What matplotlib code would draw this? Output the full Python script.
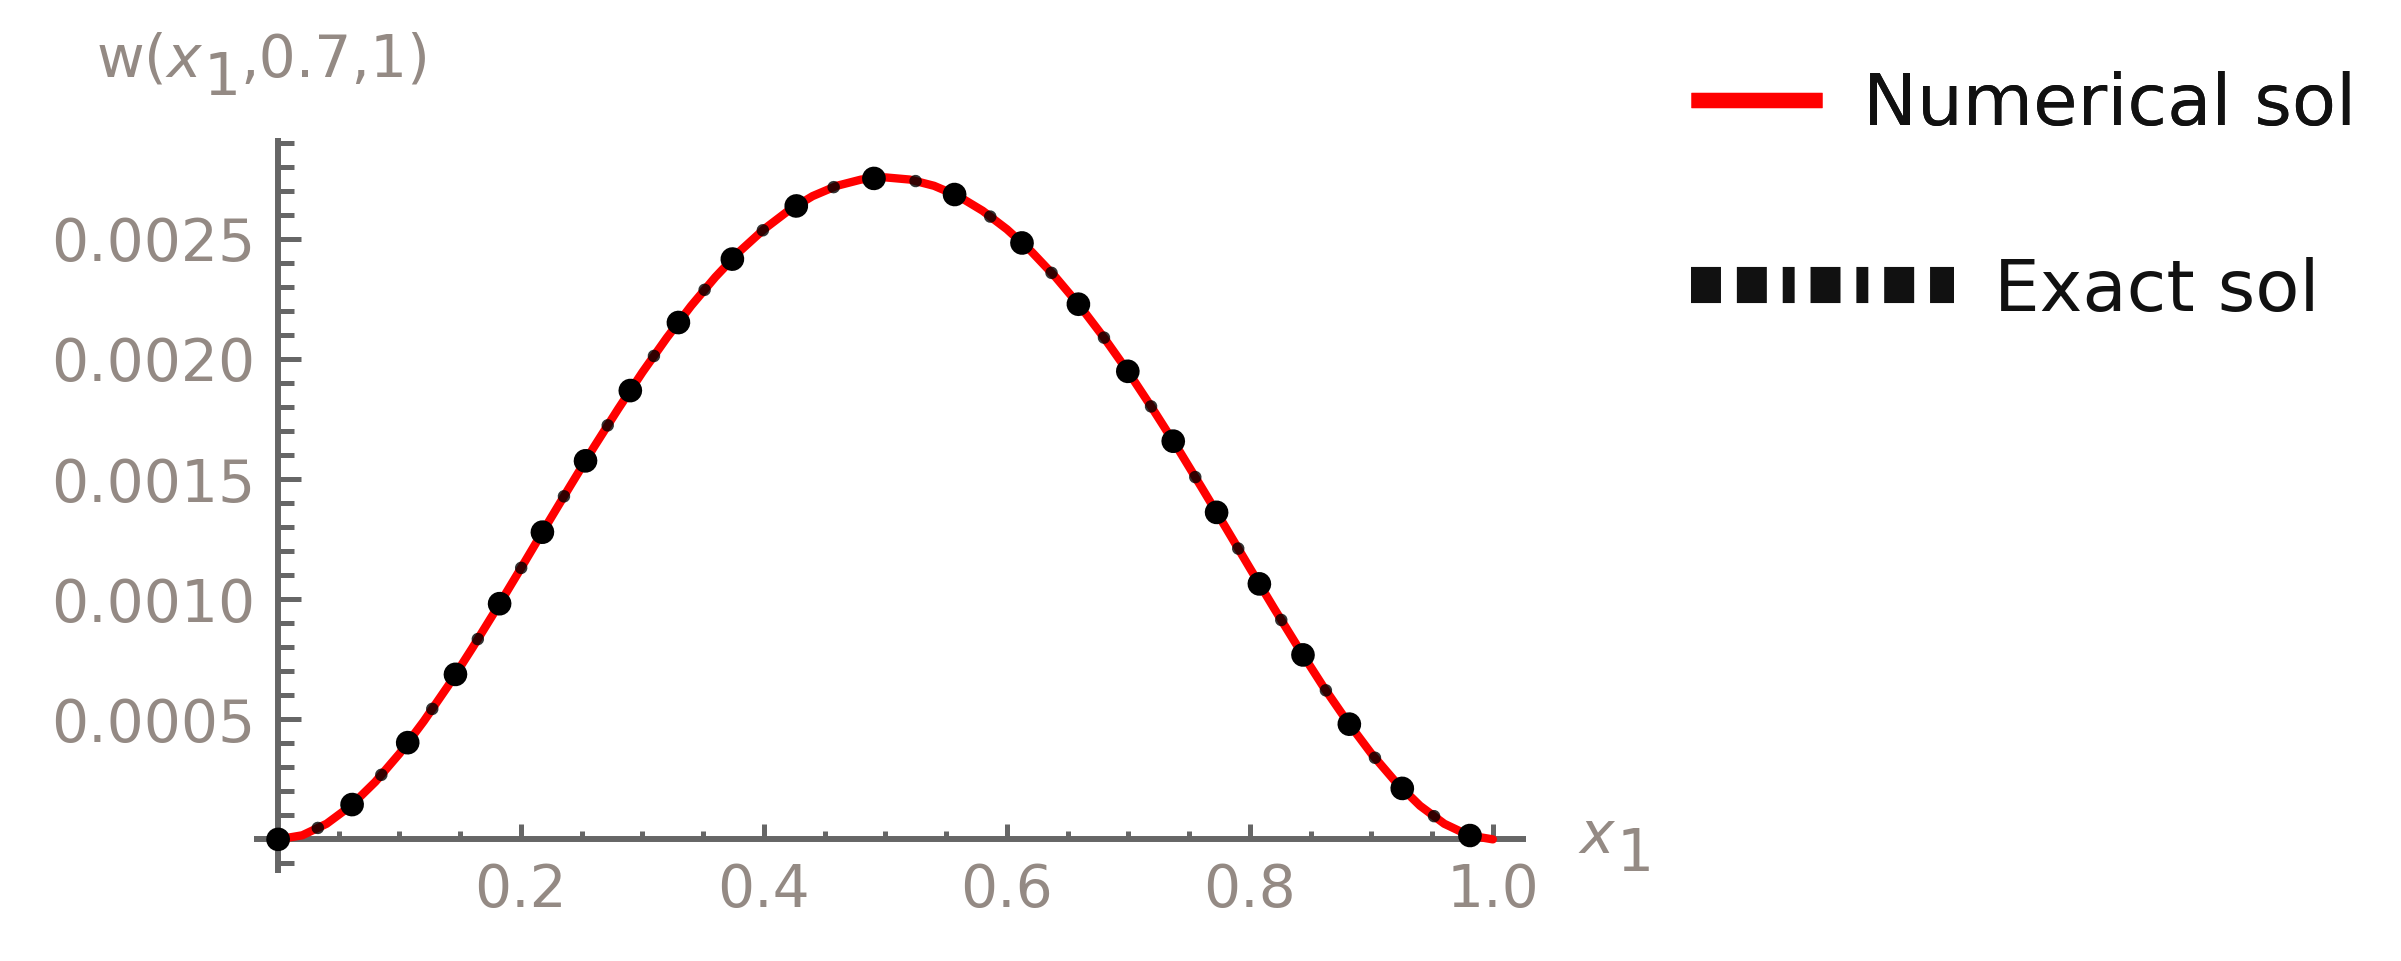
#!/usr/bin/env python
# -*- coding: utf-8 -*-

import matplotlib
matplotlib.use("Agg")

import matplotlib.pyplot as plt
from matplotlib.lines  import Line2D
from matplotlib.ticker import FixedLocator, MultipleLocator


x1 = [0.00, 0.02, 0.04, 0.06, 0.08, 0.10, 0.12, 0.14, 0.16, 0.18,
      0.20, 0.22, 0.24, 0.26, 0.28, 0.30, 0.32, 0.34, 0.36, 0.38,
      0.40, 0.42, 0.44, 0.46, 0.48, 0.50, 0.52, 0.54, 0.56, 0.58,
      0.60, 0.62, 0.64, 0.66, 0.68, 0.70, 0.72, 0.74, 0.76, 0.78,
      0.80, 0.82, 0.84, 0.86, 0.88, 0.90, 0.92, 0.94, 0.96, 0.98,
      1.00]

w_numerical = [0.0,      0.000017, 0.000065, 0.000140, 0.000239, 0.000357, 0.000492, 0.000639, 0.000797, 0.000961,
               0.001129, 0.001299, 0.001467, 0.001633, 0.001792, 0.001945, 0.002088, 0.002221, 0.002341, 0.002448,
               0.002540, 0.002617, 0.002678, 0.002721, 0.002747, 0.002756, 0.002747, 0.002721, 0.002678, 0.002617,
               0.002540, 0.002448, 0.002341, 0.002221, 0.002088, 0.001945, 0.001792, 0.001633, 0.001467, 0.001299,
               0.001129, 0.000961, 0.000797, 0.000639, 0.000492, 0.000357, 0.000239, 0.000140, 0.000065, 0.000017,
               0.0]

# The exact solution lies right on top of the numerical one
w_exact = list(w_numerical)

x_ticks       = [0.2, 0.4, 0.6, 0.8, 1.0]
x_tick_labels = ["0.2", "0.4", "0.6", "0.8", "1.0"]
y_ticks       = [0.0005, 0.0010, 0.0015, 0.0020, 0.0025]
y_tick_labels = ["0.0005", "0.0010", "0.0015", "0.0020", "0.0025"]

label_num   = "Numerical sol"
label_exact = "Exact sol"


# Styles...
W, H       = 2401, 961
col_axis   = "#666666"
col_label  = "#948a84"
fs_tick    = 42
fs_legend  = 52

plt.rcParams['font.family']      = ['DejaVu Sans']
plt.rcParams['mathtext.fontset'] = 'dejavusans'


def subscript_label(fig, x_px, base_px, head, sub, tail, drop_px, fontsize):
    # Mathematica draws the subscript nearly full size, so build it from pieces
    t1 = fig.text(x_px / W, 1 - base_px / H, head, color = col_label, fontsize = fontsize,
                  ha = 'left', va = 'baseline')
    t2 = fig.text((x_px + 1) / W, 1 - (base_px + drop_px) / H, sub, color = col_label,
                  fontsize = fontsize, ha = 'left', va = 'baseline')
    fig.canvas.draw()
    bb = t1.get_window_extent()
    t2.set_x(bb.x1 / W)
    if tail:
        fig.canvas.draw()
        bb2 = t2.get_window_extent()
        fig.text(bb2.x1 / W, 1 - base_px / H, tail, color = col_label, fontsize = fontsize,
                 ha = 'left', va = 'baseline')


fig = plt.figure(figsize = (W / 100, H / 100), dpi = 100)
ax  = fig.add_axes([253.7 / W, 88 / H, 1272 / W, 735 / H])

ax.set_xlim(-0.02, 1.027)
ax.set_ylim(-0.00014, 0.00292)

# Mathematica style axes through the origin...
for side in ('top', 'right'): ax.spines[side].set_visible(False)
ax.spines['left'  ].set_position(('data', 0))
ax.spines['bottom'].set_position(('data', 0))
for side in ('left', 'bottom'):
    ax.spines[side].set_color(col_axis)
    ax.spines[side].set_linewidth(4.3)
    ax.spines[side].set_capstyle('butt')

ax.xaxis.set_major_locator(FixedLocator(x_ticks))
ax.xaxis.set_minor_locator(MultipleLocator(0.05))
ax.yaxis.set_major_locator(FixedLocator(y_ticks))
ax.yaxis.set_minor_locator(MultipleLocator(0.0001))
ax.set_xticklabels(x_tick_labels)
ax.set_yticklabels(y_tick_labels)

ax.tick_params(axis = 'x', which = 'major', direction = 'in', length = 10.5, width = 3.6,
               color = col_axis, labelcolor = col_label, labelsize = fs_tick, pad = 16)
ax.tick_params(axis = 'x', which = 'minor', direction = 'in', length = 6, width = 3.6, color = col_axis)
ax.tick_params(axis = 'y', which = 'major', direction = 'in', length = 16.5, width = 3.6,
               color = col_axis, labelcolor = col_label, labelsize = fs_tick, pad = 16.5)
ax.tick_params(axis = 'y', which = 'minor', direction = 'in', length = 11.5, width = 3.6, color = col_axis)

# Curves: red solid line, dotted black line on top (big dots with small ones between)
ax.plot(x1, w_numerical, color = 'red', lw = 6, zorder = 3, clip_on = False,
        solid_capstyle = 'round')
ax.plot(x1, w_exact, color = 'black', lw = 17, zorder = 4, clip_on = False,
        linestyle = (0, (0.01, 3.52)), dash_capstyle = 'round')
ax.plot(x1, w_exact, color = 'black', lw = 9, zorder = 4, clip_on = False, alpha = 0.8,
        linestyle = (3.33, (0.01, 6.66)), dash_capstyle = 'round')

# Texts...
subscript_label(fig, 96, 77, "w($x$", "1", ",0.7,1)", 18, fs_tick)
subscript_label(fig, 1578, 853, "$x$", "1", "", 18, fs_tick)

# Legend, two entries with different handle lengths...
h_num   = Line2D([], [], color = 'red', lw = 11, solid_capstyle = 'butt')
h_exact = Line2D([], [], color = '#111111', lw = 26, dash_capstyle = 'butt',
                 linestyle = (0, (0.83, 0.44, 0.83, 0.44, 0.33, 0.44, 0.83, 0.44, 0.33, 0.44)))

leg_num = fig.legend([h_num], [label_num], loc = 'center left',
                     bbox_to_anchor = (1691 / W, 1 - 106 / H), frameon = False,
                     fontsize = fs_legend, handlelength = 131 / 72, handletextpad = 40 / 72,
                     borderpad = 0, borderaxespad = 0, labelcolor = '#111111')
fig.add_artist(leg_num)
fig.legend([h_exact], [label_exact], loc = 'center left',
           bbox_to_anchor = (1691 / W, 1 - 291 / H), frameon = False,
           fontsize = fs_legend, handlelength = 262 / 72, handletextpad = 40 / 72,
           borderpad = 0, borderaxespad = 0, labelcolor = '#111111')

fig.savefig("out.png", dpi = 100, facecolor = 'white')
plt.close('all')
